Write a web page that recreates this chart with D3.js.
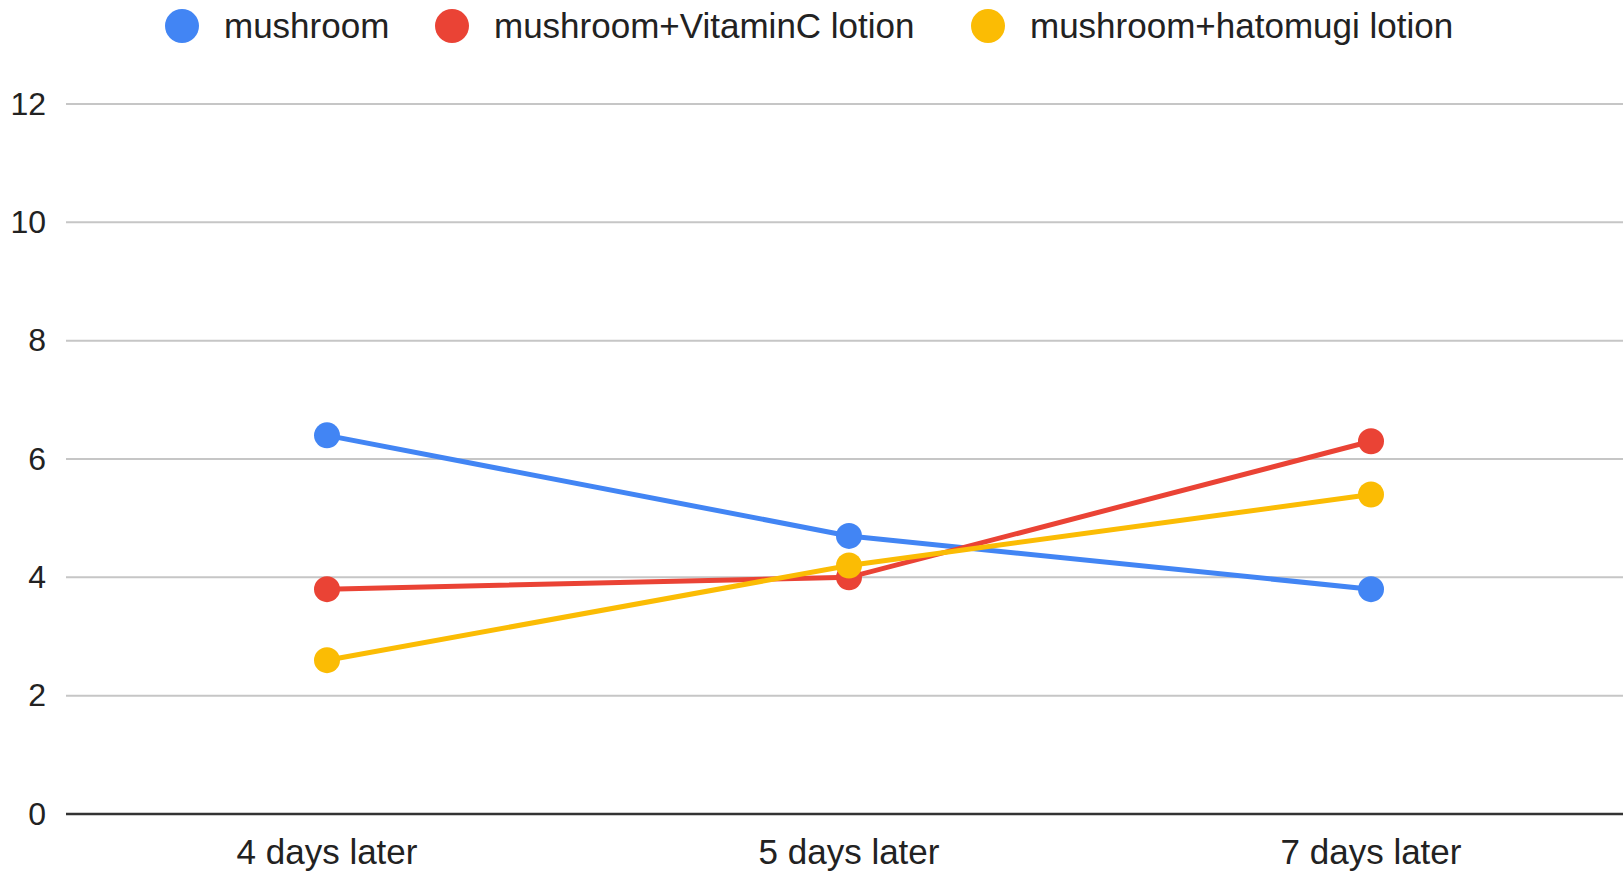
<!DOCTYPE html>
<html>
<head>
<meta charset="utf-8">
<script src="https://cdn.jsdelivr.net/npm/d3@7"></script>
<style>
  body { margin: 0; background: #fff; }
  text { font-family: "Liberation Sans", Arial, sans-serif; fill: #222; }
</style>
</head>
<body>
<div id="chart"></div>
<script>
var svgWidth = 1623;
var svgHeight = 872;

var margin = { top: 104, right: -9, bottom: 58, left: 66 };
var width = svgWidth - margin.left - margin.right;
var height = svgHeight - margin.top - margin.bottom;

// data
var categories = ["4 days later", "5 days later", "7 days later"];
var seriesNames = ["mushroom", "mushroom+VitaminC lotion", "mushroom+hatomugi lotion"];
var mushroom = [6.4, 4.7, 3.8];
var vitaminC = [3.8, 4.0, 6.3];
var hatomugi = [2.6, 4.2, 5.4];
var yTicks = [0, 2, 4, 6, 8, 10, 12];
var colors = ["#4285F4", "#EA4335", "#FBBC04"];

var seriesList = [mushroom, vitaminC, hatomugi];

var svg = d3.select("#chart")
  .append("svg")
  .attr("width", svgWidth)
  .attr("height", svgHeight);

var chartGroup = svg.append("g")
  .attr("transform", `translate(${margin.left}, ${margin.top})`);

var xScale = d3.scaleBand()
  .domain(categories)
  .range([0, width]);

var yScale = d3.scaleLinear()
  .domain([0, 12])
  .range([height, 0]);

// gridlines
chartGroup.selectAll(".grid")
  .data(yTicks.filter(d => d !== 0))
  .enter()
  .append("line")
  .attr("x1", 0)
  .attr("x2", width)
  .attr("y1", d => yScale(d))
  .attr("y2", d => yScale(d))
  .attr("stroke", "#c6c6c6")
  .attr("stroke-width", 2);

// baseline
chartGroup.append("line")
  .attr("x1", 0)
  .attr("x2", width)
  .attr("y1", yScale(0))
  .attr("y2", yScale(0))
  .attr("stroke", "#333333")
  .attr("stroke-width", 2.5);

// y axis labels
var leftAxis = d3.axisLeft(yScale).tickValues(yTicks).tickSize(0).tickPadding(20);
var yAxis = chartGroup.append("g").call(leftAxis);
yAxis.select(".domain").remove();
yAxis.selectAll("text")
  .attr("font-size", 32)
  .attr("font-family", "Liberation Sans, Arial, sans-serif")
  .attr("fill", "#222");

// x axis labels
var bottomAxis = d3.axisBottom(xScale).tickSize(0).tickPadding(25);
var xAxis = chartGroup.append("g")
  .attr("transform", `translate(0, ${height})`)
  .call(bottomAxis);
xAxis.select(".domain").remove();
xAxis.selectAll("text")
  .attr("font-size", 35)
  .attr("font-family", "Liberation Sans, Arial, sans-serif")
  .attr("fill", "#222");

var line = d3.line()
  .x((d, i) => xScale(categories[i]) + xScale.bandwidth() / 2)
  .y(d => yScale(d));

seriesList.forEach(function(values, s) {
  var g = chartGroup.append("g");
  g.append("path")
    .datum(values)
    .attr("fill", "none")
    .attr("stroke", colors[s])
    .attr("stroke-width", 5)
    .attr("d", line);
  g.selectAll("circle")
    .data(values)
    .enter()
    .append("circle")
    .attr("cx", (d, i) => xScale(categories[i]) + xScale.bandwidth() / 2)
    .attr("cy", d => yScale(d))
    .attr("r", 13)
    .attr("fill", colors[s]);
});

// legend
var legendX = [182, 452, 988];
var legend = svg.append("g");
seriesNames.forEach(function(name, i) {
  legend.append("circle")
    .attr("cx", legendX[i])
    .attr("cy", 26)
    .attr("r", 17)
    .attr("fill", colors[i]);
  legend.append("text")
    .attr("x", legendX[i] + 42)
    .attr("y", 26)
    .attr("dy", "0.35em")
    .attr("font-size", 35)
    .text(name);
});
</script>
</body>
</html>
